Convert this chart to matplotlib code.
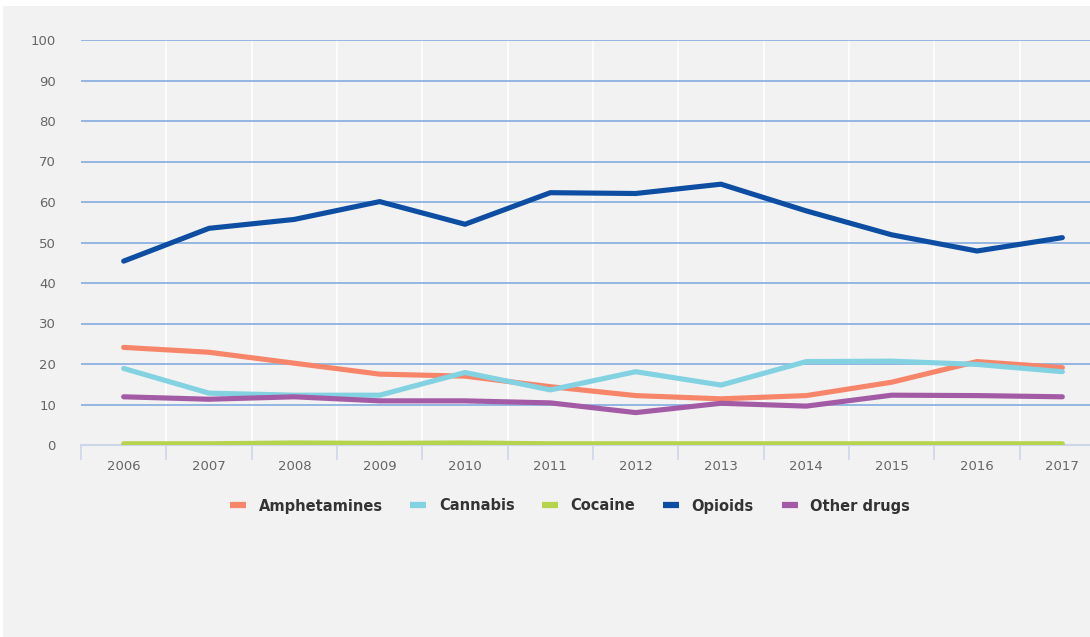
import matplotlib.pyplot as plt
from matplotlib.patches import Rectangle
from matplotlib.lines import Line2D
import numpy as np

years = ["2006", "2007", "2008", "2009", "2010", "2011",
         "2012", "2013", "2014", "2015", "2016", "2017"]
amphetamines = [24.1, 22.9, 20.2, 17.5, 17.0, 14.4, 12.2, 11.4, 12.2, 15.5, 20.6, 19.1]
cannabis = [18.9, 12.8, 12.3, 12.3, 17.9, 13.6, 18.1, 14.8, 20.6, 20.7, 19.9, 18.1]
cocaine = [0.3, 0.3, 0.5, 0.4, 0.5, 0.3, 0.3, 0.3, 0.3, 0.3, 0.3, 0.3]
opioids = [45.4, 53.5, 55.7, 60.1, 54.5, 62.3, 62.1, 64.4, 57.8, 51.9, 47.9, 51.2]
other_drugs = [11.9, 11.3, 11.9, 10.9, 10.9, 10.4, 8.0, 10.3, 9.6, 12.3, 12.2, 11.9]

series = [
    ("Amphetamines", amphetamines, "#f7856a"),
    ("Cannabis", cannabis, "#82d2e2"),
    ("Cocaine", cocaine, "#b5d34d"),
    ("Opioids", opioids, "#0d4ea3"),
    ("Other drugs", other_drugs, "#a45ba6"),
]

W, H = 1090, 637
fig = plt.figure(figsize=(W / 100, H / 100), dpi=100, facecolor="white")
# grey panel with a thin white margin on top and left
fig.patches.append(Rectangle((3 / W, 0), 1, 1 - 6 / H, transform=fig.transFigure,
                             facecolor="#f2f2f2", edgecolor="none", zorder=-10))

# plot area runs a little past the right edge of the canvas
ax = fig.add_axes([81 / W, (H - 445) / H, 1024 / W, 405 / H])
ax.set_facecolor("none")
x = np.arange(len(years))
for name, vals, col in series:
    ax.plot(x, vals, color=col, lw=3.7, solid_capstyle="round",
            solid_joinstyle="round", label=name, zorder=3)

ax.set_xlim(-0.5, len(years) - 0.5)
ax.set_ylim(0, 100)
ax.set_yticks(np.arange(0, 101, 10))
ax.set_xticks(x)
ax.set_xticklabels(years)
ax.set_xticks(np.arange(-0.5, len(years), 1), minor=True)

for y in range(10, 101, 10):
    ax.axhline(y, color="#7aa6dc", lw=1.1, zorder=1)
for b in np.arange(0.5, len(years), 1):
    ax.axvline(b, color="white", lw=1.2, zorder=0.5)

for s in ["top", "right", "left"]:
    ax.spines[s].set_visible(False)
ax.spines["bottom"].set_color("#ccd6eb")
ax.spines["bottom"].set_linewidth(1.5)
ax.spines["bottom"].set_zorder(2)

ax.tick_params(axis="y", length=0, pad=18, labelsize=9.5, labelcolor="#666666")
ax.tick_params(axis="x", which="major", length=0, pad=11, labelsize=9.5,
               labelcolor="#666666")
ax.tick_params(axis="x", which="minor", length=11, width=1.2, color="#ccd6eb")

handles = [Line2D([0], [0], color=c, lw=4.5, solid_capstyle="butt")
           for _, _, c in series]
leg = fig.legend(handles, [n for n, _, _ in series], loc="center",
                 bbox_to_anchor=(570 / W, (H - 506) / H), ncol=5, frameon=False,
                 handlelength=1.1, handletextpad=0.85, columnspacing=1.9,
                 prop={"weight": "bold", "size": 10.5})
for t in leg.get_texts():
    t.set_color("#333333")

fig.savefig("out.png", dpi=100, facecolor=fig.get_facecolor())
